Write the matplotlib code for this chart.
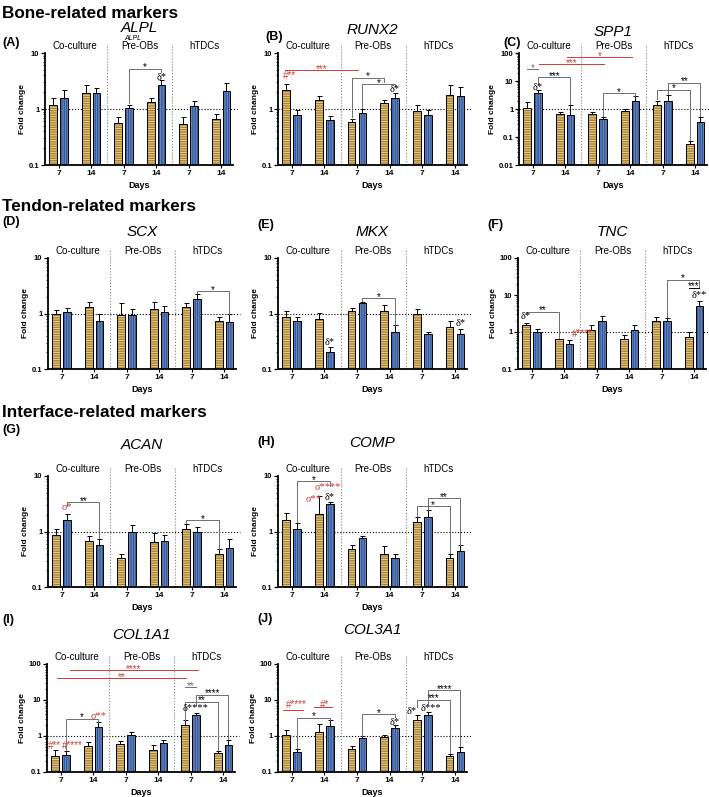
import numpy as np
import matplotlib.pyplot as plt
from matplotlib.ticker import FixedLocator, LogLocator, NullFormatter

plt.rcParams['font.family'] = ['Liberation Sans', 'DejaVu Sans']
plt.rcParams['hatch.linewidth'] = 1.0

W, H = 709, 797

groups = ['Co-culture', 'Pre-OBs', 'hTDCs']
days = ['7', '14']

# fold change per bar, order inside each group: 7d gold, 7d blue, 14d gold, 14d blue
alpl = [1.17, 1.60, 1.97, 1.94, 0.57, 1.06, 1.34, 2.66, 0.54, 1.12, 0.66, 2.10]
alpl_hi = [1.54, 2.16, 2.70, 2.40, 0.73, 1.20, 1.60, 3.26, 0.71, 1.38, 0.80, 2.97]

runx2 = [2.22, 0.79, 1.45, 0.63, 0.58, 0.86, 1.26, 1.58, 0.91, 0.77, 1.76, 1.74]
runx2_hi = [2.77, 0.96, 1.74, 0.74, 0.66, 1.00, 1.45, 1.90, 1.20, 0.97, 2.70, 2.45]

spp1 = [1.06, 3.60, 0.66, 0.60, 0.66, 0.43, 0.87, 2.00, 1.40, 2.00, 0.057, 0.33]
spp1_hi = [1.75, 4.60, 0.80, 1.40, 0.78, 0.53, 1.00, 2.90, 2.00, 3.05, 0.071, 0.50]

scx = [0.99, 1.06, 1.30, 0.73, 0.93, 0.93, 1.23, 1.06, 1.30, 1.81, 0.73, 0.71]
scx_hi = [1.14, 1.26, 1.64, 0.99, 1.55, 1.23, 1.60, 1.39, 1.55, 2.20, 0.88, 0.96]

mkx = [0.88, 0.74, 0.79, 0.20, 1.12, 1.56, 1.12, 0.47, 0.99, 0.43, 0.56, 0.43]
mkx_hi = [1.09, 0.88, 1.01, 0.25, 1.25, 1.60, 1.43, 0.61, 1.20, 0.47, 0.72, 0.52]

tnc = [1.58, 1.00, 0.63, 0.48, 1.16, 1.95, 0.63, 1.11, 2.00, 2.00, 0.73, 5.00]
tnc_hi = [1.80, 1.18, 0.66, 0.59, 1.52, 2.67, 0.81, 1.58, 2.56, 2.40, 1.00, 7.00]

acan = [0.88, 1.63, 0.67, 0.56, 0.34, 1.00, 0.64, 0.67, 1.12, 1.00, 0.39, 0.50]
acan_hi = [1.10, 2.10, 0.82, 0.74, 0.39, 1.30, 0.95, 0.87, 1.38, 1.23, 0.48, 0.72]

comp = [1.62, 1.10, 2.10, 3.07, 0.49, 0.77, 0.40, 0.34, 1.47, 1.82, 0.34, 0.44]
comp_hi = [2.15, 1.40, 4.40, 3.40, 0.58, 0.83, 0.54, 0.39, 1.82, 2.40, 0.39, 0.56]

col1a1 = [0.27, 0.30, 0.54, 1.78, 0.61, 1.04, 0.40, 0.64, 2.07, 3.94, 0.33, 0.56]
col1a1_hi = [0.40, 0.38, 0.68, 2.46, 0.71, 1.29, 0.55, 0.79, 2.74, 4.40, 0.38, 0.79]

col3a1 = [1.10, 0.35, 1.32, 1.92, 0.43, 0.88, 0.96, 1.70, 2.87, 3.95, 0.27, 0.37]
col3a1_hi = [1.50, 0.43, 2.09, 2.75, 0.53, 0.98, 1.06, 2.00, 3.78, 4.67, 0.32, 0.51]

GOLD_FACE, GOLD_LINE = '#EACF84', '#A8843A'
BLUE_FACE, BLUE_LINE = '#2A4E8C', '#6585C0'
RED = '#D03A34'
GREY = '#6E6E6E'

# 6 units per group, 3 per day, 1 between the two bars of a pair
xpos = np.array([6 * g + 3 * d + s for g in range(3) for d in range(2) for s in range(2)])

fig = plt.figure(figsize=(W / 100, H / 100), dpi=100)


def star(ax, x, y, s, color='black'):
    ax.annotate(s, (x, y), xytext=(0, -1.2), textcoords='offset points',
                ha='center', va='baseline', fontsize=7, color=color,
                annotation_clip=False, zorder=5)


def draw_notes(ax, notes):
    for n in notes:
        if n[0] == 'b':  # bracket with two legs
            _, x1, x2, y, y1, y2, lab = n
            ax.plot([x1, x1, x2, x2], [y1, y, y, y2], color=GREY, lw=0.7,
                    clip_on=False, zorder=4)
            star(ax, (x1 + x2) / 2, y, lab)
        elif n[0] == 'l':  # plain line
            _, x1, x2, y, lab, col = n
            ax.plot([x1, x2], [y, y], color=col, lw=0.7, clip_on=False, zorder=4)
            if lab:
                star(ax, (x1 + x2) / 2, y, lab, col)
        else:  # marker text
            _, x, y, lab, col, serif = n
            fam = ['Liberation Serif', 'DejaVu Serif'] if serif else ['Liberation Sans', 'DejaVu Sans']
            ax.text(x, y, lab, ha='center', va='center', color=col, family=fam,
                    fontsize=7.5 if serif else 7, clip_on=False, zorder=5)


def panel(rect, mean, hi, ylim, notes):
    l, t, r, b = rect
    ax = fig.add_axes([l / W, 1 - b / H, (r - l) / W, (b - t) / H])
    ax.set_yscale('log')
    ymin, ymax = ylim
    mean = np.asarray(mean)
    hi = np.asarray(hi)
    styles = [(GOLD_FACE, GOLD_LINE, '-------'), (BLUE_FACE, BLUE_LINE, '|||||||')]
    for s, (face, line, hatch) in enumerate(styles):
        idx = np.arange(s, 12, 2)
        x, v = xpos[idx], mean[idx]
        ax.bar(x, v - ymin, bottom=ymin, width=0.72, color=face, edgecolor=line,
               hatch=hatch, lw=0, zorder=2)
        ax.bar(x, v - ymin, bottom=ymin, width=0.72, fill=False,
               edgecolor='black', lw=0.7, zorder=3)
        ax.errorbar(x, v, yerr=[np.zeros_like(v), hi[idx] - v], fmt='none',
                    ecolor='black', elinewidth=0.7, capsize=1.8, capthick=0.7, zorder=3)

    ax.set_ylim(ymin, ymax)
    ax.set_xlim(-0.75, 16.6)
    dec = 10.0 ** np.arange(round(np.log10(ymin)), round(np.log10(ymax)) + 1)
    ax.yaxis.set_major_locator(FixedLocator(dec))
    ax.set_yticklabels([f'{d:g}' for d in dec], fontsize=5.5, fontweight='bold')
    ax.yaxis.set_minor_locator(LogLocator(base=10, subs=np.arange(2, 10)))
    ax.yaxis.set_minor_formatter(NullFormatter())
    ax.tick_params(axis='y', which='major', length=3, width=0.9, pad=1)
    ax.tick_params(axis='y', which='minor', length=1.6, width=0.6)

    ax.set_xticks(xpos[::2] + 0.5)
    ax.set_xticklabels(days * 3, fontsize=6, fontweight='bold')
    ax.tick_params(axis='x', length=2, width=0.8, pad=1.5)

    for side in ['top', 'right']:
        ax.spines[side].set_visible(False)
    for side in ['left', 'bottom']:
        ax.spines[side].set_linewidth(1.3)

    ax.axhline(1, color='black', ls=':', lw=0.8, xmax=1.02, clip_on=False, zorder=1)
    for sep in [5, 11]:
        ax.axvline(sep, ymin=0, ymax=1.08, color='#808080', ls=':', lw=0.8,
                   clip_on=False, zorder=1)
    for g, name in enumerate(groups):
        ax.text(6 * g + 2, 1.015, name, transform=ax.get_xaxis_transform(),
                ha='center', va='bottom', fontsize=7)

    ax.set_ylabel('Fold change', fontsize=6, fontweight='bold', labelpad=2)
    ax.set_xlabel('Days', fontsize=6.5, fontweight='bold', labelpad=3)
    draw_notes(ax, notes)
    return ax


alpl_notes = [('b', 7, 10, 5.2, 1.28, 4.5, '*'),
              ('t', 10, 3.6, 'δ*', 'black', True)]
runx2_notes = [('t', 0.3, 3.86, '#**', RED, False),
               ('l', -0.15, 6.6, 4.9, '***', RED),
               ('b', 6, 9, 3.6, 0.72, 3.0, '*'),
               ('b', 7, 10, 2.8, 1.06, 2.55, '*'),
               ('t', 10, 2.2, 'δ*', 'black', True)]
spp1_notes = [('l', 0, 1, 27, '*', GREY),
              ('t', 1, 6.1, 'δ*', 'black', True),
              ('b', 1, 4, 13.4, 8.0, 1.5, '***'),
              ('l', 1.06, 7.1, 40, '***', RED),
              ('l', 3.7, 9.7, 70, '*', RED),
              ('b', 7, 10, 3.7, 0.58, 3.0, '*'),
              ('b', 12, 15, 4.9, 2.2, 0.08, '*'),
              ('b', 13, 16, 8.6, 3.3, 0.55, '**')]
scx_notes = [('b', 13, 16, 2.52, 2.3, 1.0, '*')]
mkx_notes = [('t', 4, 0.30, 'δ*', 'black', True),
             ('b', 7, 10, 1.89, 1.65, 0.63, '*'),
             ('t', 16, 0.67, 'δ*', 'black', True)]
tnc_notes = [('t', 0, 2.57, 'δ*', 'black', True),
             ('b', 0, 3, 3.5, 3.0, 0.68, '**'),
             ('t', 5.2, 0.86, '#****', RED, False),
             ('b', 13, 16, 25.6, 2.5, 16, '*'),
             ('l', 15, 16, 15.8, '***', 'black'),
             ('t', 16, 9.6, 'δ**', 'black', True)]
acan_notes = [('t', 1, 2.66, 'σ*', RED, True),
              ('b', 1, 4, 3.4, 2.85, 0.76, '**'),
              ('b', 12, 15, 1.58, 1.4, 0.49, '*')]
comp_notes = [('b', 1, 4, 8.1, 1.5, 6.7, '*'),
              ('t', 3.85, 6.25, 'σ****', RED, True),
              ('t', 2.5, 3.8, 'σ**', RED, True),
              ('t', 4.0, 4.1, 'δ*', 'black', True),
              ('b', 12, 15, 2.86, 1.9, 0.41, '*'),
              ('b', 13, 16, 3.97, 2.45, 0.57, '**')]
col1a1_notes = [('l', 1.35, 13.2, 68, '****', RED),
                ('l', 0.15, 12.05, 40, '**', RED),
                ('t', -0.1, 0.53, '#**', RED, False),
                ('t', 1.6, 0.53, '#****', RED, False),
                ('b', 1, 4, 3.05, 0.42, 2.5, '*'),
                ('t', 4, 3.5, 'σ**', RED, True),
                ('l', 12, 13, 22.4, '**', GREY),
                ('b', 12, 15, 8.9, 2.8, 0.4, '**'),
                ('b', 13, 16, 14.2, 7.2, 0.8, '****'),
                ('t', 13, 5.8, 'δ****', 'black', True)]
col3a1_notes = [('t', 0.9, 7.4, '#****', RED, False),
                ('l', -0.3, 1.5, 5.2, '', RED),
                ('t', 3.5, 7.4, '#*', RED, False),
                ('l', 2.6, 4.25, 6.2, '', RED),
                ('b', 1, 4, 3.26, 0.46, 2.8, '*'),
                ('b', 7, 10, 4.0, 1.0, 3.4, '*'),
                ('t', 10, 2.33, 'δ*', 'black', True),
                ('t', 11.5, 4.7, 'δ*', 'black', True),
                ('t', 13.3, 5.8, 'δ***', 'black', True),
                ('b', 12, 15, 10.2, 6.4, 0.33, '***'),
                ('b', 13, 16, 18.5, 7.9, 0.52, '****')]

panels = [
    ((45, 53, 233, 165), alpl, alpl_hi, (0.1, 10), alpl_notes, 'ALPL', '(A)', (2, 43), 28),
    ((278, 53, 467, 165), runx2, runx2_hi, (0.1, 10), runx2_notes, 'RUNX2', '(B)', (265, 37), 30),
    ((519, 53, 707, 165), spp1, spp1_hi, (0.01, 100), spp1_notes, 'SPP1', '(C)', (503, 43), 32),
    ((48, 258, 236, 369), scx, scx_hi, (0.1, 10), scx_notes, 'SCX', '(D)', (2, 222), 232),
    ((278, 258, 467, 369), mkx, mkx_hi, (0.1, 10), mkx_notes, 'MKX', '(E)', (257, 225), 232),
    ((518, 258, 706, 369), tnc, tnc_hi, (0.1, 100), tnc_notes, 'TNC', '(F)', (487, 225), 232),
    ((48, 476, 236, 587), acan, acan_hi, (0.1, 10), acan_notes, 'ACAN', '(G)', (2, 430), 445),
    ((278, 476, 467, 587), comp, comp_hi, (0.1, 10), comp_notes, 'COMP', '(H)', (257, 442), 443),
    ((47, 664, 235, 772), col1a1, col1a1_hi, (0.1, 100), col1a1_notes, 'COL1A1', '(I)', (2, 620), 635),
    ((278, 664, 467, 772), col3a1, col3a1_hi, (0.1, 100), col3a1_notes, 'COL3A1', '(J)', (257, 619), 630),
]

for rect, mean, hi, ylim, notes, gene, letter, lpos, ty in panels:
    panel(rect, mean, hi, ylim, notes)
    cx = (rect[0] + rect[2]) / 2
    fig.text(cx / W, 1 - ty / H, gene, ha='center', va='center', fontsize=11, style='italic')
    fig.text(lpos[0] / W, 1 - lpos[1] / H, letter, ha='left', va='center',
             fontsize=9, fontweight='bold')

for title, y in [('Bone-related markers', 14), ('Tendon-related markers', 207),
                 ('Interface-related markers', 412)]:
    fig.text(2 / W, 1 - y / H, title, ha='left', va='center', fontsize=12.3, fontweight='bold')

# small stray label above the Pre-OBs header of panel A
fig.text(133 / W, 1 - 38 / H, 'ALPL', ha='center', va='center', fontsize=5, style='italic')

fig.savefig('out.png', dpi=100)
